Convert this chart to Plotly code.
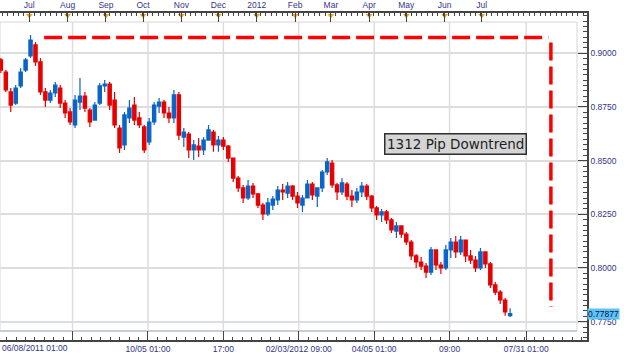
import pandas as pd
import plotly.graph_objects as go

# ---------------- data ----------------
DATES = pd.date_range('2011-06-08', periods=104, freq='4D')

OPEN = [
    .8969, .8913, .8820, .8768, .8848, .8922, .8988, .9039, .8960, .8820,
    .8782, .8815, .8838, .8768, .8727, .8666, .8773, .8801, .8736, .8689,
    .8768, .8848, .8857, .8782, .8652, .8573, .8699, .8759, .8699, .8657,
    .8587, .8680, .8754, .8773, .8722, .8699, .8806, .8610, .8624, .8550,
    .8568, .8550, .8596, .8633, .8573, .8596, .8568, .8512, .8419, .8373,
    .8326, .8382, .8345, .8293, .8252, .8293, .8317, .8363, .8349, .8382,
    .8335, .8293, .8326, .8391, .8335, .8373, .8447, .8489, .8387, .8354,
    .8391, .8335, .8317, .8354, .8382, .8335, .8280, .8247, .8261, .8224,
    .8172, .8196, .8158, .8121, .8056, .8028, .8009, .7981, .8084, .8014,
    .8000, .8084, .8121, .8075, .8130, .8056, .8037, .8000, .8075, .8019,
    .7921, .7888, .7851, .7778,
]
HIGH = [
    .8978, .8922, .8838, .8852, .8932, .8978, .9085, .9053, .8978, .8838,
    .8829, .8866, .8852, .8782, .8745, .8806, .8885, .8820, .8745, .8773,
    .8862, .8876, .8866, .8820, .8666, .8727, .8782, .8796, .8727, .8666,
    .8699, .8773, .8792, .8782, .8750, .8829, .8820, .8652, .8633, .8596,
    .8606, .8610, .8666, .8643, .8615, .8610, .8573, .8512, .8428, .8387,
    .8410, .8396, .8349, .8303, .8326, .8335, .8382, .8391, .8401, .8387,
    .8354, .8340, .8410, .8401, .8354, .8456, .8512, .8503, .8396, .8419,
    .8401, .8363, .8373, .8401, .8391, .8340, .8289, .8275, .8270, .8233,
    .8214, .8196, .8168, .8130, .8065, .8051, .8023, .8098, .8084, .8028,
    .8107, .8140, .8149, .8149, .8130, .8084, .8056, .8093, .8075, .8028,
    .7935, .7898, .7860, .7813,
]
LOW = [
    .8908, .8820, .8727, .8759, .8838, .8913, .8978, .8941, .8806, .8750,
    .8768, .8796, .8745, .8699, .8666, .8652, .8736, .8727, .8657, .8689,
    .8759, .8820, .8736, .8652, .8536, .8550, .8675, .8666, .8652, .8536,
    .8573, .8666, .8722, .8699, .8675, .8675, .8596, .8564, .8512, .8503,
    .8517, .8526, .8596, .8541, .8541, .8550, .8494, .8401, .8354, .8303,
    .8317, .8326, .8280, .8224, .8242, .8270, .8293, .8317, .8326, .8317,
    .8280, .8261, .8326, .8317, .8284, .8354, .8433, .8373, .8317, .8340,
    .8317, .8284, .8303, .8331, .8317, .8261, .8224, .8214, .8205, .8163,
    .8140, .8140, .8107, .8037, .8000, .7991, .7953, .7967, .7991, .7972,
    .7991, .8047, .8047, .8061, .8028, .8019, .7981, .7991, .8000, .7907,
    .7874, .7832, .7777, .7772,
]
CLOSE = [
    .8922, .8829, .8759, .8838, .8913, .8969, .9062, .8960, .8820, .8782,
    .8815, .8852, .8768, .8722, .8680, .8782, .8801, .8745, .8680, .8759,
    .8848, .8857, .8759, .8666, .8559, .8713, .8745, .8689, .8666, .8550,
    .8680, .8759, .8773, .8722, .8699, .8806, .8619, .8633, .8550, .8573,
    .8550, .8596, .8643, .8573, .8596, .8568, .8512, .8419, .8373, .8326,
    .8382, .8345, .8293, .8252, .8303, .8321, .8363, .8354, .8382, .8335,
    .8303, .8326, .8391, .8340, .8373, .8447, .8494, .8387, .8354, .8396,
    .8335, .8317, .8354, .8382, .8335, .8280, .8247, .8261, .8224, .8177,
    .8196, .8158, .8121, .8056, .8028, .8009, .7981, .8084, .8014, .8000,
    .8084, .8121, .8075, .8130, .8056, .8037, .8000, .8075, .8019, .7921,
    .7888, .7851, .7795, .77877,
]

GRID_DATES = ['2011-08-05', '2011-10-05', '2011-12-05', '2012-02-04',
              '2012-04-05', '2012-06-05', '2012-08-06']
GRID_LABELS = ['', '10/05 01:00', '17:00', '02/03/2012 09:00',
               '04/05 01:00', '09:00', '07/31 01:00']
FIRST_LABEL = '06/08/2011 01:00'

MONTH_DATES = ['2011-07-01', '2011-08-01', '2011-09-01', '2011-10-01',
               '2011-11-01', '2011-12-01', '2012-01-01', '2012-02-01',
               '2012-03-01', '2012-04-01', '2012-05-01', '2012-06-01',
               '2012-07-01']
MONTH_LABELS = ['Jul', 'Aug', 'Sep', 'Oct', 'Nov', 'Dec', '2012', 'Feb',
                'Mar', 'Apr', 'May', 'Jun', 'Jul']

PRICE_TICKS = [0.775, 0.800, 0.825, 0.850, 0.875, 0.900]
LAST_PRICE = 0.77877

TREND_LEVEL = 0.9074
TREND_START = '2011-07-13'
TREND_END = '2012-08-24'
DROP_DATE = '2012-08-26'
DROP_TOP = 0.9050
DROP_BOTTOM = 0.7818
NOTE_TEXT = '1312 Pip Downtrend'
NOTE_DATE = '2012-06-09 14:00'
NOTE_PRICE = 0.8577

X_RANGE = ['2011-06-07 07:00', '2012-09-24 05:00']
Y_RANGE = [0.76646, 0.91877]

# ---------------- style ----------------
BLUE = '#0a64c8'
RED = '#e60000'
AXIS = '#444444'
LABEL = '#34348a'
GRID = '#dddddd'
TICKFONT = dict(family='Liberation Sans, Arial, sans-serif', size=8.5, color=LABEL)
PANEL_X1 = 577 / 587
PANEL_Y0 = 9 / 327
PANEL_Y1 = 318 / 327

fig = go.Figure()

fig.add_trace(go.Candlestick(
    x=DATES, open=OPEN, high=HIGH, low=LOW, close=CLOSE,
    increasing=dict(line=dict(color=BLUE, width=1.2), fillcolor=BLUE),
    decreasing=dict(line=dict(color=RED, width=1.2), fillcolor=RED),
    whiskerwidth=0, showlegend=False, hoverinfo='skip',
))

# month markers on the top time axis
fig.add_trace(go.Scatter(
    x=MONTH_DATES, y=[0.992] * len(MONTH_DATES), xaxis='x2', yaxis='y3',
    mode='markers', marker=dict(symbol='triangle-down', size=6, color='#f5a21c',
                                line=dict(width=0)),
    showlegend=False, hoverinfo='skip',
))

shapes = []
shapes.append(dict(type='rect', xref='paper', yref='paper', x0=0, x1=PANEL_X1,
                   y0=PANEL_Y0, y1=PANEL_Y1, line=dict(color='#d6d6d6', width=1),
                   layer='below'))
shapes.append(dict(type='line', xref='paper', yref='paper', x0=0, x1=PANEL_X1,
                   y0=PANEL_Y0, y1=PANEL_Y0, line=dict(color='#c6cdd8', width=2),
                   layer='below'))
for d in GRID_DATES:
    shapes.append(dict(type='line', xref='x', yref='paper', x0=d, x1=d,
                       y0=PANEL_Y0, y1=PANEL_Y1, line=dict(color=GRID, width=1.5),
                       layer='below'))
shapes.append(dict(type='line', xref='x', yref='y', x0=TREND_START, x1=TREND_END,
                   y0=TREND_LEVEL, y1=TREND_LEVEL,
                   line=dict(color='#ff0000', width=3.5, dash='18px,6px')))
shapes.append(dict(type='line', xref='x', yref='y', x0=DROP_DATE, x1=DROP_DATE,
                   y0=DROP_TOP, y1=DROP_BOTTOM,
                   line=dict(color='#ff0000', width=3.5, dash='18px,6px')))

annotations = [
    dict(x=NOTE_DATE, y=NOTE_PRICE, xref='x', yref='y', text=NOTE_TEXT,
         showarrow=False, font=dict(family='DejaVu Sans', size=13.5, color='#1e1e1e'),
         bgcolor='#d4d4d4', bordercolor='#2e2e2e', borderwidth=1.5, borderpad=1.5),
    dict(x=1, y=LAST_PRICE, xref='paper', yref='y', xanchor='left', yanchor='middle',
         text=f'{LAST_PRICE:.5f}', showarrow=False,
         font=dict(family='Liberation Sans, Arial, sans-serif', size=8.5, color='#10104a'),
         bgcolor='#5cc3f3', borderpad=0),
    dict(x=0, y=-8 / 327, xref='paper', yref='paper', xanchor='left', yanchor='middle',
         text=FIRST_LABEL, showarrow=False, font=TICKFONT),
]

fig.update_layout(
    width=624, height=357,
    margin=dict(l=0, r=37, t=13, b=17),
    paper_bgcolor='white', plot_bgcolor='white',
    showlegend=False, boxgap=0.05,
    shapes=shapes, annotations=annotations,
    xaxis=dict(
        type='date', range=X_RANGE, rangeslider=dict(visible=False),
        tickmode='array', tickvals=GRID_DATES, ticktext=GRID_LABELS,
        ticks='inside', ticklen=9, tickwidth=1, tickcolor=AXIS,
        showline=True, linecolor=AXIS, linewidth=1.5, showgrid=False,
        zeroline=False, tickfont=TICKFONT,
        minor=dict(ticks='inside', ticklen=3, tickcolor=AXIS,
                   dtick=7.625 * 86400000, tick0='2011-08-05', showgrid=False),
    ),
    xaxis2=dict(
        type='date', range=X_RANGE, overlaying='x', side='top', anchor='y',
        tickmode='array', tickvals=MONTH_DATES, ticktext=MONTH_LABELS,
        ticks='inside', ticklen=9, tickwidth=1, tickcolor=AXIS,
        showline=True, linecolor=AXIS, linewidth=1.5, showgrid=False,
        zeroline=False, tickfont=TICKFONT,
        minor=dict(ticks='inside', ticklen=3, tickcolor=AXIS,
                   dtick=4.35 * 86400000, tick0='2011-07-01', showgrid=False),
    ),
    yaxis=dict(
        range=Y_RANGE, side='right', anchor='x',
        tickmode='array', tickvals=PRICE_TICKS, tickformat='.4f',
        ticks='inside', ticklen=9, tickwidth=1, tickcolor=AXIS,
        showline=True, linecolor=AXIS, linewidth=1.5,
        showgrid=True, gridcolor=GRID, gridwidth=1.5, zeroline=False,
        tickfont=TICKFONT,
        minor=dict(ticks='inside', ticklen=4, tickcolor=AXIS,
                   dtick=0.0025, tick0=0.775, showgrid=False),
    ),
    yaxis3=dict(range=[0, 1], overlaying='y', anchor='x2', visible=False),
)

fig.write_html('out.html', config={'displayModeBar': False},
               post_script="document.body.style.margin='0px';")
